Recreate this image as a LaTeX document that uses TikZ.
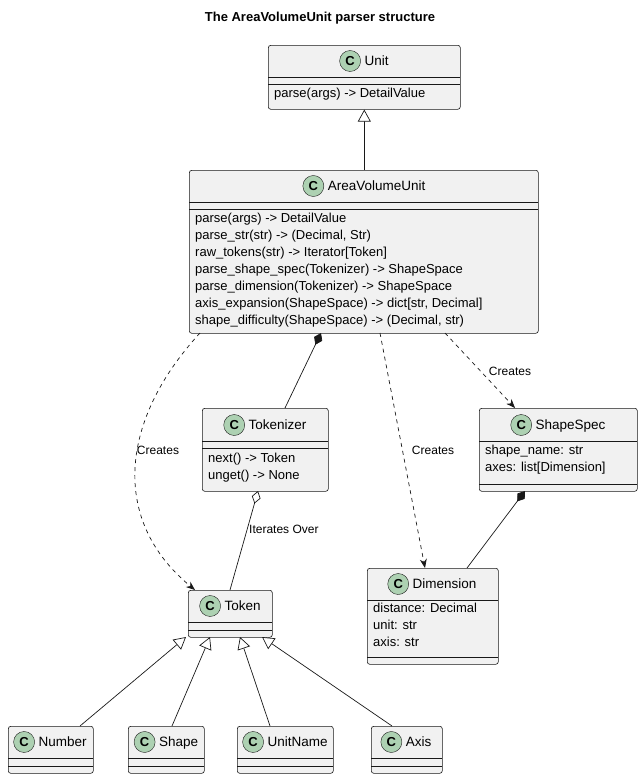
\documentclass[tikz,border=0pt]{standalone}
\usepackage{fontspec}
\setmainfont{Liberation Sans}
\usetikzlibrary{arrows.meta}
\definecolor{boxfill}{HTML}{F1F1F1}
\definecolor{boxline}{HTML}{181818}
\definecolor{iconfill}{HTML}{ADD1B2}
\newcommand{\cicon}{\tikz[baseline=-0.6ex]{\node[circle,draw=boxline,fill=iconfill,inner sep=0pt,minimum size=21pt,font=\fontsize{13}{13}\selectfont\bfseries]{C};}}
\tikzset{
 x=1pt,y=-1pt,
 box/.style={draw=boxline,fill=boxfill,rounded corners=2.5pt,line width=0.6pt,anchor=north west,inner sep=0pt},
 hdr/.style={font=\fontsize{13.5}{16}\selectfont,inner sep=0pt},
 mem/.style={font=\fontsize{13}{17}\selectfont,align=left,anchor=north west,inner sep=0pt},
 sep/.style={draw=boxline,line width=0.6pt},
 conn/.style={draw=boxline,line width=0.7pt},
 inh/.style={conn,-{Triangle[open,length=12pt,width=13pt,fill=white]}},
 comp/.style={conn,{Diamond[length=13pt,width=9pt]}-},
 aggr/.style={conn,{Diamond[open,length=13pt,width=9pt,fill=white]}-},
 dep/.style={conn,dashed,dash pattern=on 4pt off 4pt,-{Stealth[length=9pt,width=7pt]}},
 lbl/.style={font=\fontsize{12}{14}\selectfont,inner sep=1pt}
}
\begin{document}
\begin{tikzpicture}
\useasboundingbox (0,0) rectangle (641,779);
\node[font=\fontsize{13}{16}\selectfont\bfseries] (title) at (320,18) {The AreaVolumeUnit parser structure};
% Unit
\node[box,minimum width=192pt,minimum height=64pt] (unit) at (268,45) {};
\node[hdr] (unitH) at (364,61) {\cicon\ Unit};
\draw[sep] (268,77) -- (460,77); \draw[sep] (268,84) -- (460,84);
\node[mem] (unitM) at (274,88) {parse(args) -> DetailValue};
% AreaVolumeUnit
\node[box,minimum width=349pt,minimum height=163pt] (avu) at (189,170) {};
\node[hdr] (avuH) at (364,186) {\cicon\ AreaVolumeUnit};
\draw[sep] (189,202) -- (538,202); \draw[sep] (189,209) -- (538,209);
\node[mem] (avuM) at (195,213) {parse(args) -> DetailValue\\parse\_str(str) -> (Decimal, Str)\\raw\_tokens(str) -> Iterator[Token]\\parse\_shape\_spec(Tokenizer) -> ShapeSpace\\parse\_dimension(Tokenizer) -> ShapeSpace\\axis\_expansion(ShapeSpace) -> dict[str, Decimal]\\shape\_difficulty(ShapeSpace) -> (Decimal, str)};
% Tokenizer
\node[box,minimum width=126pt,minimum height=83pt] (tok) at (202,408) {};
\node[hdr] (tokH) at (265,425) {\cicon\ Tokenizer};
\draw[sep] (202,441) -- (328,441); \draw[sep] (202,448) -- (328,448);
\node[mem] (tokM) at (208,453) {next() -> Token\\unget() -> None};
% ShapeSpec
\node[box,minimum width=158pt,minimum height=83pt] (ss) at (479,408) {};
\node[hdr] (ssH) at (558,425) {\cicon\ ShapeSpec};
\draw[sep] (479,441) -- (637,441); \draw[sep] (479,484) -- (637,484);
\node[mem] (ssM) at (485,445) {shape\_name: str\\axes: list[Dimension]};
% Token
\node[box,minimum width=84pt,minimum height=47pt] (token) at (188,590) {};
\node[hdr] (tokenH) at (230,606) {\cicon\ Token};
\draw[sep] (188,622) -- (272,622); \draw[sep] (188,630) -- (272,630);
% Dimension
\node[box,minimum width=131pt,minimum height=96pt] (dim) at (367,568) {};
\node[hdr] (dimH) at (432,584) {\cicon\ Dimension};
\draw[sep] (367,600) -- (498,600); \draw[sep] (367,657) -- (498,657);
\node[mem] (dimM) at (373,603) {distance: Decimal\\unit: str\\axis: str};
% subclasses
\node[box,minimum width=85pt,minimum height=47pt] (num) at (8,726) {};
\node[hdr] (numH) at (50,742) {\cicon\ Number};
\draw[sep] (8,758) -- (93,758); \draw[sep] (8,766) -- (93,766);
\node[box,minimum width=76pt,minimum height=47pt] (shp) at (128,726) {};
\node[hdr] (shpH) at (166,742) {\cicon\ Shape};
\draw[sep] (128,758) -- (204,758); \draw[sep] (128,766) -- (204,766);
\node[box,minimum width=96pt,minimum height=47pt] (un) at (237,726) {};
\node[hdr] (unH) at (285,742) {\cicon\ UnitName};
\draw[sep] (237,758) -- (333,758); \draw[sep] (237,766) -- (333,766);
\node[box,minimum width=71pt,minimum height=47pt] (ax) at (371,726) {};
\node[hdr] (axH) at (406,742) {\cicon\ Axis};
\draw[sep] (371,758) -- (442,758); \draw[sep] (371,766) -- (442,766);
% connectors
\draw[inh] (avu.north -| unit.south) -- (unit.south);
\draw[comp] (321,333) -- (285,408);
\draw[aggr] (258,491) -- (230,590);
\node[lbl,anchor=west] (l1) at (248,529) {Iterates Over};
\draw[comp] (525,491) -- (467,568);
\draw[dep] (200,333) .. controls (120,420) and (110,520) .. (195,590);
\node[lbl] (l2) at (158,450) {Creates};
\draw[dep] (380,333) -- (425,568);
\node[lbl] (l3) at (433,450) {Creates};
\draw[dep] (445,333) -- (515,408);
\node[lbl] (l4) at (510,371) {Creates};
\draw[inh] (80,726) -- (186,637);
\draw[inh] (172,726) -- (210,637);
\draw[inh] (270,726) -- (240,637);
\draw[inh] (392,726) -- (262,637);
\end{tikzpicture}
\end{document}
